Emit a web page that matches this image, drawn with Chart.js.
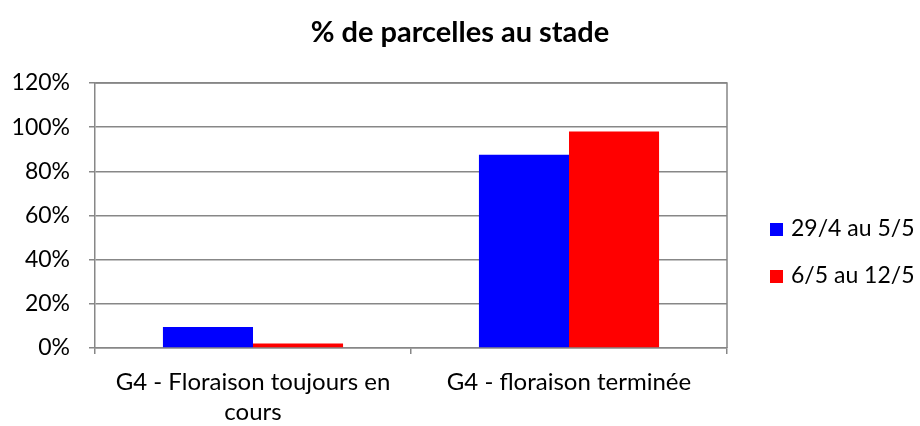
<!DOCTYPE html>
<html>
<head>
<meta charset="utf-8">
<script src="https://cdn.jsdelivr.net/npm/chart.js@4"></script>
<style>
  html, body { margin: 0; padding: 0; background: #fff; }
  #wrap { position: relative; width: 920px; height: 426px; }
  #title { position: absolute; left: 0; width: 920px; top: 12px; text-align: center; font-family: Lato, "Open Sans", sans-serif; font-size: 29px; font-weight: bold; line-height: 38px; color: #000; }
  #legend { position: absolute; left: 770px; top: 209px; font-family: Lato, "Open Sans", sans-serif; font-size: 23px; color: #000; }
  #legend div { height: 47px; line-height: 36px; white-space: nowrap; }
  #legend span { display: inline-block; width: 13px; height: 13px; margin-right: 8px; vertical-align: 0px; }
</style>
</head>
<body>
<div id="wrap">
  <canvas id="myChart" width="920" height="426"></canvas>
  <div id="title">% de parcelles au stade</div>
  <div id="legend"></div>
</div>
<script>
const categories = [['G4 - Floraison toujours en', 'cours'], 'G4 - floraison terminée'];
const seriesNames = ['29/4 au 5/5', '6/5 au 12/5'];
const serie1 = [9.5, 87.5];
const serie2 = [2, 98];
const seriesColors = ['#0000ff', '#ff0000'];
const yTicks = [0, 20, 40, 60, 80, 100, 120];

const fontFamily = 'Lato, "Open Sans", sans-serif';
const gridColor = '#878787';

// frame around the plot area (top and right side like Excel)
const plotBorder = {
  id: 'plotBorder',
  afterDatasetsDraw(chart) {
    const { ctx, chartArea: a } = chart;
    ctx.save();
    ctx.strokeStyle = gridColor;
    ctx.lineWidth = 1.5;
    ctx.beginPath();
    ctx.moveTo(a.left, a.top);
    ctx.lineTo(a.right, a.top);
    ctx.lineTo(a.right, a.bottom);
    ctx.stroke();
    ctx.restore();
  }
};

const initChart = () => {
  const ctx = document.getElementById('myChart').getContext('2d');
  new Chart(ctx, {
    type: 'bar',
    data: {
      labels: categories,
      datasets: [
        { label: seriesNames[0], data: serie1, backgroundColor: seriesColors[0] },
        { label: seriesNames[1], data: serie2, backgroundColor: seriesColors[1] }
      ]
    },
    options: {
      responsive: false,
      animation: false,
      layout: { padding: { left: 0, right: 193, top: 83, bottom: 0 } },
      categoryPercentage: 0.57,
      barPercentage: 1,
      plugins: {
        legend: { display: false },
        tooltip: { enabled: false },
        title: { display: false }
      },
      scales: {
        x: {
          grid: { drawOnChartArea: false, drawTicks: true, tickLength: 6, color: gridColor, lineWidth: 1.5, offset: true },
          border: { color: gridColor, width: 1.5 },
          ticks: { color: '#000', padding: 13, maxRotation: 0, autoSkip: false,
                   font: { family: fontFamily, size: 24, lineHeight: 1.25 } },
          afterFit: (s) => { s.height = 78; }
        },
        y: {
          min: 0, max: 120,
          afterBuildTicks: (s) => { s.ticks = yTicks.map(v => ({ value: v })); },
          grid: { color: gridColor, lineWidth: 1.5, tickLength: 6 },
          border: { color: gridColor, width: 1.5 },
          ticks: { color: '#000', padding: 19, callback: (v) => v + '%',
                   font: { family: fontFamily, size: 23 } },
          afterFit: (s) => { s.width = 95; }
        }
      }
    },
    plugins: [plotBorder]
  });

  const legend = document.getElementById('legend');
  seriesNames.forEach((name, i) => {
    const row = document.createElement('div');
    row.innerHTML = `<span style="background:${seriesColors[i]}"></span>${name}`;
    legend.appendChild(row);
  });
};

initChart();
</script>
</body>
</html>
